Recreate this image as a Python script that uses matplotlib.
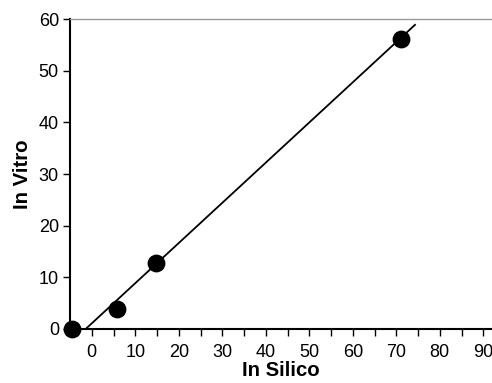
import matplotlib
matplotlib.use("Agg")
import matplotlib.pyplot as plt
from matplotlib.ticker import MultipleLocator

# Data
in_silico = [-4.5, 5.7, 14.8, 71.1]
in_vitro = [0.0, 3.9, 12.8, 56.2]
fit_x = [-1.4, 74.3]
fit_y = [0.0, 58.9]

x_ticks = [0, 10, 20, 30, 40, 50, 60, 70, 80, 90]
y_ticks = [0, 10, 20, 30, 40, 50, 60]

plt.rcParams['font.family'] = ['Liberation Sans', 'DejaVu Sans']

fig = plt.figure(figsize=(4.92, 3.83), dpi=100)
ax = fig.add_axes([0.1423, 0.141, 0.8577, 0.809])

ax.plot(fit_x, fit_y, color='black', lw=1.3, zorder=2)
ax.scatter(in_silico, in_vitro, s=140, color='black', zorder=3, clip_on=False)

ax.set_xlim(-5, 92)
ax.set_ylim(0, 60)
ax.set_xticks(x_ticks)
ax.set_yticks(y_ticks)
ax.xaxis.set_minor_locator(MultipleLocator(5))

ax.spines['right'].set_visible(False)
ax.spines['top'].set_color('#999999')
ax.spines['top'].set_linewidth(1.0)
ax.spines['left'].set_linewidth(1.5)
ax.spines['bottom'].set_linewidth(1.5)

ax.tick_params(axis='both', which='major', direction='out', length=5, width=1.0,
               labelsize=13, colors='black', pad=3)
ax.tick_params(axis='x', which='major', pad=6)
ax.tick_params(axis='x', which='minor', direction='out', length=5, width=1.0)

ax.set_xlabel('In Silico', fontsize=14.7, fontweight='bold', labelpad=0)
ax.set_ylabel('In Vitro', fontsize=14.7, fontweight='bold', labelpad=5)

fig.savefig('out.png', dpi=100)
